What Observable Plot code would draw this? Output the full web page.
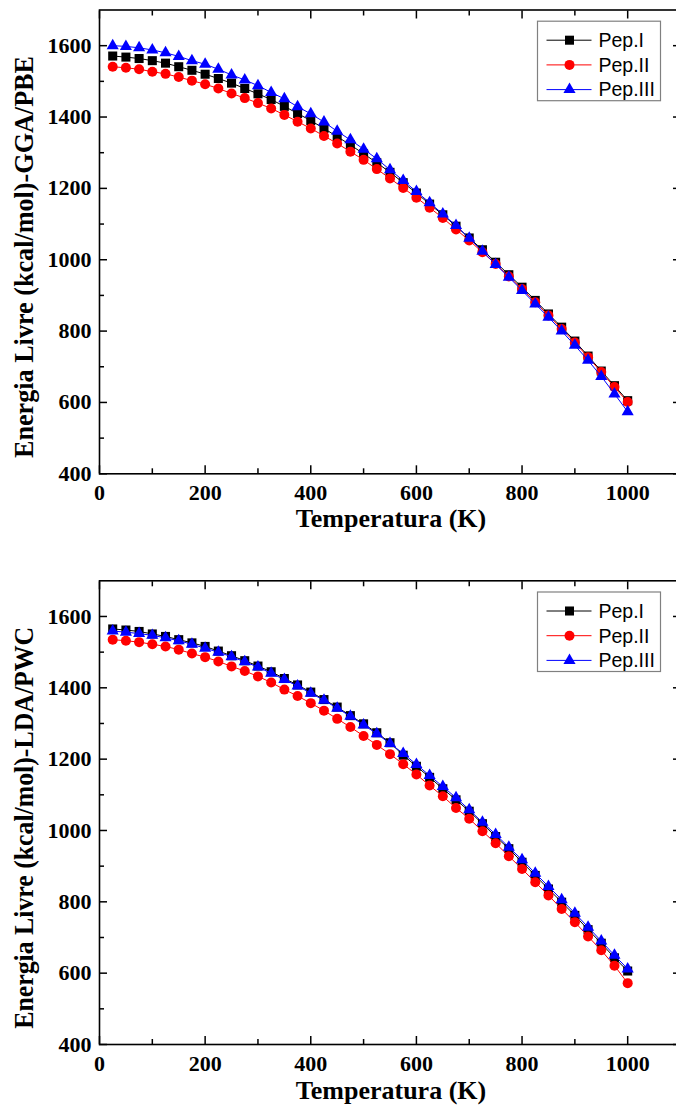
<!DOCTYPE html>
<html>
<head>
<meta charset="utf-8">
<script src="https://cdn.jsdelivr.net/npm/d3@7"></script>
<script src="https://cdn.jsdelivr.net/npm/@observablehq/plot@0.6"></script>
<style>
  html, body { margin: 0; padding: 0; background: #fff; }
  #chart { width: 676px; }
  #chart svg { display: block; }
</style>
</head>
<body>
<div id="chart"></div>
<script>
// ---- data ----
const temperatura = [25, 50, 75, 100, 125, 150, 175, 200, 225, 250, 275, 300, 325, 350, 375, 400, 425, 450, 475, 500,
                     525, 550, 575, 600, 625, 650, 675, 700, 725, 750, 775, 800, 825, 850, 875, 900, 925, 950, 975, 1000];

// Top panel: GGA/PBE
const ggaPepI = [1571, 1568, 1564, 1558, 1551, 1541, 1531, 1520, 1508, 1495, 1480, 1465, 1449, 1430, 1410, 1390, 1368, 1345, 1322, 1297,
                 1272, 1245, 1216, 1187, 1156, 1126, 1094, 1061, 1028, 993, 958, 923, 886, 848, 811, 772, 730, 688, 647, 605];
const ggaPepII = [1541, 1538, 1534, 1527, 1521, 1512, 1502, 1492, 1480, 1466, 1453, 1439, 1424, 1406, 1387, 1368, 1347, 1326, 1303, 1280,
                  1254, 1228, 1201, 1174, 1146, 1117, 1085, 1054, 1021, 988, 953, 918, 881, 844, 806, 768, 727, 685, 643, 601];
const ggaPepIII = [1600, 1598, 1594, 1588, 1580, 1570, 1558, 1548, 1534, 1518, 1504, 1488, 1469, 1451, 1429, 1409, 1386, 1360, 1336, 1310,
                   1283, 1252, 1222, 1191, 1160, 1128, 1096, 1060, 1024, 987, 951, 914, 876, 839, 800, 760, 718, 673, 624, 574];

// Bottom panel: LDA/PWC
const ldaPepI = [1565, 1562, 1558, 1551, 1544, 1535, 1526, 1516, 1503, 1490, 1476, 1461, 1445, 1426, 1408, 1388, 1367, 1346, 1322, 1299,
                 1274, 1246, 1211, 1180, 1149, 1117, 1086, 1054, 1019, 983, 949, 911, 874, 836, 799, 762, 722, 684, 643, 606];
const ldaPepII = [1535, 1532, 1528, 1522, 1516, 1507, 1496, 1486, 1474, 1460, 1447, 1432, 1415, 1395, 1377, 1357, 1336, 1313, 1290, 1265,
                  1240, 1214, 1186, 1157, 1126, 1096, 1063, 1033, 998, 964, 928, 892, 855, 818, 780, 743, 703, 664, 621, 572];
const ldaPepIII = [1559, 1556, 1552, 1547, 1540, 1532, 1522, 1511, 1500, 1487, 1473, 1458, 1441, 1423, 1405, 1385, 1365, 1343, 1320, 1296,
                   1271, 1244, 1216, 1185, 1154, 1123, 1092, 1058, 1023, 989, 953, 918, 880, 843, 806, 768, 729, 690, 650, 612];

const seriesNames = ["Pep.I", "Pep.II", "Pep.III"];
const xTickValues = [0, 200, 400, 600, 800, 1000];
const xMinorTicks = [100, 300, 500, 700, 900];
const yTickValues = [400, 600, 800, 1000, 1200, 1400, 1600];
const yMinorTicks = [500, 700, 900, 1100, 1300, 1500];
const xTitle = "Temperatura (K)";
const yTitles = ["Energia Livre (kcal/mol)-GGA/PBE", "Energia Livre (kcal/mol)-LDA/PWC"];

// ---- styles ----
const seriesColors = ["#000000", "#ff0000", "#0000ff"];
const seriesSymbols = ["square", "circle", "triangle"];
const seriesR = [5.1, 5.0, 4.5];
const serif = "'Liberation Serif', 'Times New Roman', serif";
const sans = "'Liberation Sans', Arial, sans-serif";

function makePanel(values, yTitle, cfg) {
  const rows = [];
  seriesNames.forEach((name, s) => values[s].forEach((v, i) => rows.push({T: temperatura[i], E: v, serie: name})));
  const marks = [];
  seriesNames.forEach((name, s) => {
    const d = rows.filter(r => r.serie === name);
    marks.push(Plot.line(d, {x: "T", y: "E", stroke: seriesColors[s], strokeWidth: 1}));
    marks.push(Plot.dot(d, {x: "T", y: "E", symbol: seriesSymbols[s], fill: seriesColors[s], stroke: "none", r: seriesR[s]}));
  });
  const tick = {label: null, text: null, strokeWidth: 1.5};
  marks.push(
    Plot.axisX(xTickValues, {...tick, anchor: "bottom", tickSize: -8}),
    Plot.axisX(xMinorTicks, {...tick, anchor: "bottom", tickSize: -5}),
    Plot.axisX(xTickValues, {...tick, anchor: "top", tickSize: -8}),
    Plot.axisX(xMinorTicks, {...tick, anchor: "top", tickSize: -5}),
    Plot.axisY(yTickValues, {...tick, anchor: "left", tickSize: -8}),
    Plot.axisY(yMinorTicks, {...tick, anchor: "left", tickSize: -5}),
    Plot.axisY(yTickValues, {...tick, anchor: "right", tickSize: -8}),
    Plot.axisY(yMinorTicks, {...tick, anchor: "right", tickSize: -5}),
    Plot.axisX(xTickValues, {anchor: "bottom", label: null, tickSize: 0, tickPadding: 11, tickFormat: d => String(d)}),
    Plot.axisY(yTickValues, {anchor: "left", label: null, tickSize: 0, tickPadding: 8, tickFormat: d => String(d)}),
    Plot.frame({stroke: "#000", strokeWidth: 1.6})
  );

  const svgEl = Plot.plot({
    width: 676,
    height: 554,
    marginLeft: 99,
    marginRight: -4,
    marginTop: cfg.marginTop,
    marginBottom: cfg.marginBottom,
    x: {domain: [0, 1100]},
    y: {domain: [400, 1700]},
    style: {fontFamily: serif, fontSize: "22px", fontWeight: "bold", color: "#000", background: "#fff", overflow: "hidden"},
    marks
  });

  const svg = d3.select(svgEl);
  const frameTop = cfg.marginTop;
  const frameBottom = 554 - cfg.marginBottom;

  // y title
  svg.append("text")
    .attr("transform", `translate(33, ${frameTop + 247.5}) rotate(-90)`)
    .attr("text-anchor", "middle")
    .attr("font-family", serif).attr("font-weight", "bold").attr("font-size", 27)
    .attr("textLength", 402).attr("lengthAdjust", "spacingAndGlyphs")
    .attr("fill", "#000")
    .text(yTitle);

  // x title
  svg.append("text")
    .attr("x", 391).attr("y", frameBottom + cfg.xTitleOffset)
    .attr("text-anchor", "middle")
    .attr("font-family", serif).attr("font-weight", "bold").attr("font-size", 26)
    .attr("fill", "#000")
    .text(xTitle);

  // legend
  const lg = svg.append("g").attr("transform", `translate(537.5, ${frameTop + 11.7})`);
  lg.append("rect").attr("x", 0).attr("y", 0).attr("width", 123).attr("height", 79.5)
    .attr("fill", "#fff").attr("stroke", "#808080").attr("stroke-width", 1.2);
  seriesNames.forEach((name, s) => {
    const cy = 19 + s * 24.7;
    lg.append("line").attr("x1", 9).attr("x2", 54).attr("y1", cy).attr("y2", cy)
      .attr("stroke", seriesColors[s]).attr("stroke-width", 1);
    const area = Math.PI * seriesR[s] * seriesR[s];
    const sym = [d3.symbolSquare, d3.symbolCircle, d3.symbolTriangle][s];
    lg.append("path").attr("d", d3.symbol(sym, area)()).attr("transform", `translate(32, ${cy})`)
      .attr("fill", seriesColors[s]);
    lg.append("text").attr("x", 61).attr("y", cy + 6.8)
      .attr("text-anchor", "start")
      .attr("font-family", sans).attr("font-weight", "normal").attr("font-size", 19.5)
      .attr("fill", "#000").text(name);
  });
  return svgEl;
}

const chart = document.getElementById("chart");
chart.appendChild(makePanel([ggaPepI, ggaPepII, ggaPepIII], yTitles[0], {marginTop: 9.5, marginBottom: 80.7, xTitleOffset: 53.7}));
chart.appendChild(makePanel([ldaPepI, ldaPepII, ldaPepIII], yTitles[1], {marginTop: 26.3, marginBottom: 64, xTitleOffset: 55}));
</script>
</body>
</html>
